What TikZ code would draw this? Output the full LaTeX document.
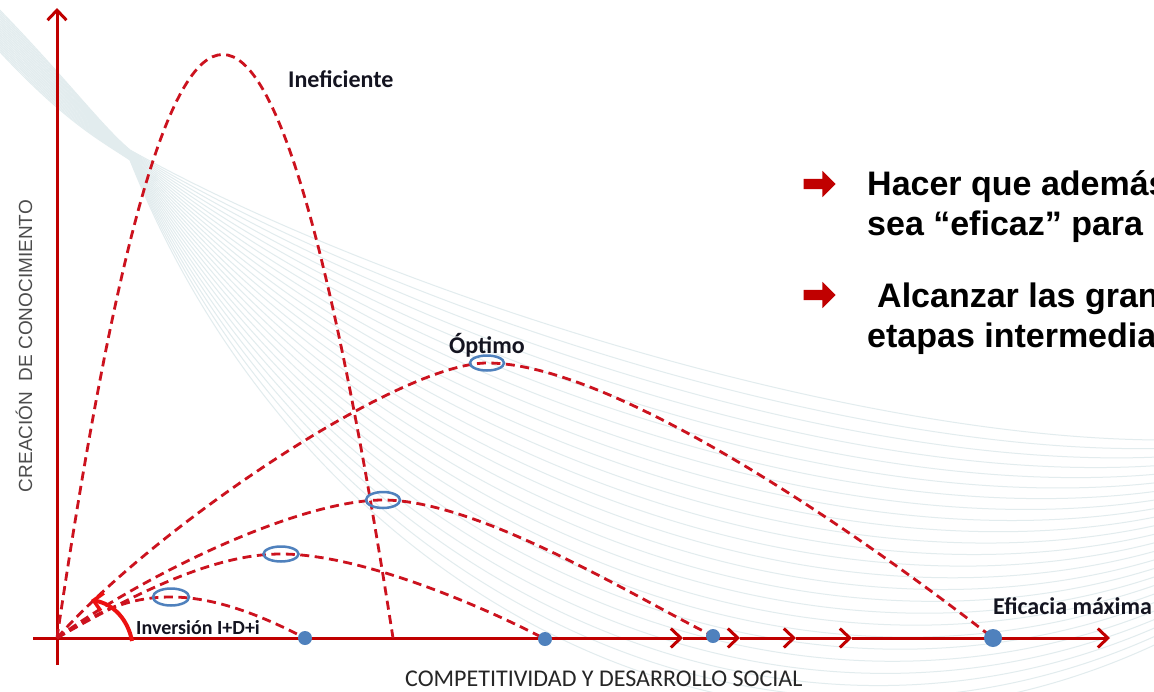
\documentclass[tikz,border=0pt]{standalone}
\usepackage{fontspec}
\setmainfont{Carlito}
\newfontfamily\arialfont{Liberation Sans}
\usetikzlibrary{arrows.meta,positioning,shapes.geometric,shapes.arrows}
\definecolor{axisred}{RGB}{192,0,0}
\definecolor{trailred}{RGB}{204,18,30}
\definecolor{kickred}{RGB}{236,16,16}
\definecolor{ringblue}{RGB}{79,129,189}
\definecolor{wave}{RGB}{226,236,238}
\definecolor{ink}{RGB}{20,20,32}

\begin{document}
\begin{tikzpicture}[x=1pt,y=-1pt,
  axis/.style={axisred,line width=3pt},
  barb/.style={-{Straight Barb[length=10pt,width=19pt,line width=3pt]}},
  trail/.style={trailred,line width=2.8pt,dash pattern=on 9pt off 5.5pt},
  ring/.style={draw=ringblue,line width=2.5pt,ellipse,inner sep=0pt,
    minimum width=34pt,minimum height=15pt},
  dot/.style={circle,fill=ringblue,inner sep=0pt,minimum size=14pt},
  kick/.style={kickred,line width=4pt,
    -{Straight Barb[length=9pt,width=18pt,line width=3.5pt]}},
  tag/.style={font=\bfseries\fontsize{24}{28}\selectfont,text=ink,inner sep=0pt},
  say/.style={font=\arialfont\bfseries\fontsize{34}{40}\selectfont,
    align=left,inner sep=0pt},
  bul/.style={single arrow,fill=axisred,inner xsep=0pt,inner ysep=5pt,
    minimum height=32pt,single arrow head extend=8pt}
]
  \useasboundingbox[fill=white] (0,0) rectangle (1154,691);

  \foreach \k [evaluate=\k as \s using \k/24] in {0,...,24}
    \draw[wave,line width=1pt]
      (-20,{-10+40*\s}) .. controls (60,{70+50*\s}) and (100,{125+15*\s})
      .. (130,{150+10*\s})
      .. controls ({380-80*\s},{290+300*\s}) and ({850-100*\s},{440+400*\s})
      .. (1165,{440+200*\s});

  \coordinate (o) at (57,638);
  \coordinate (ytop) at (57,8);
  \coordinate (ybot) at (57,665);
  \coordinate (xl) at (33,638);
  \coordinate (x1) at (683,638);
  \coordinate (x2) at (740,638);
  \coordinate (x3) at (796,638);
  \coordinate (x4) at (852,638);
  \coordinate (xr) at (1110,638);

  \draw[axis,barb] (ybot) -- (ytop);
  \draw[axis,barb] (xl) -- (x1);
  \draw[axis,barb] (x1) -- (x2);
  \draw[axis,barb] (x2) -- (x3);
  \draw[axis,barb] (x3) -- (x4);
  \draw[axis,barb] (x4) -- (xr);

  \coordinate (pk1) at (487,363);
  \coordinate (pk2) at (383,500);
  \coordinate (pk3) at (281,554);
  \coordinate (pk4) at (171,597);
  \coordinate (ie) at (393,638);
  \coordinate (e1) at (305,638);
  \coordinate (e2) at (545,639);
  \coordinate (e3) at (713,636);
  \coordinate (e4) at (993,638);

  \draw[trail] (o) .. controls (172,-140) and (272,-140) .. (ie);
  \draw[trail] (o) .. controls (157,525) and (400,363) .. (pk1)
    .. controls (620,363) and (880,550) .. (e4);
  \draw[trail] (o) .. controls (147,573) and (300,500) .. (pk2)
    .. controls (480,500) and (640,600) .. (e3);
  \draw[trail] (o) .. controls (150,585) and (220,554) .. (pk3)
    .. controls (360,554) and (480,605) .. (e2);
  \draw[trail] (o) .. controls (100,610) and (130,597) .. (pk4)
    .. controls (220,597) and (270,620) .. (e1);

  \node[ring] (r1) at (pk1) {};
  \node[ring,minimum height=16pt] (r2) at (pk2) {};
  \node[ring,minimum width=35pt] (r3) at (pk3) {};
  \node[ring,minimum width=36pt,minimum height=17pt] (r4) at (pk4) {};
  \node[dot] (d1) at (e1) {};
  \node[dot] (d2) at (e2) {};
  \node[dot] (d3) at (e3) {};
  \node[dot,minimum size=18pt] (d4) at (e4) {};

  \node[tag,anchor=base west] (inef) at (288,87) {Ineficiente};
  \node[tag,anchor=base west] (opt) at (449,353) {Óptimo};
  \node[tag,anchor=base west,font=\bfseries\fontsize{20}{24}\selectfont]
    (inv) at (136,634) {Inversión I+D+i};
  \node[tag,anchor=base west] (efi) at (993,614) {Eficacia máxima};

  \coordinate (kfrom) at (132,641);
  \coordinate (kto) at (91,600);
  \draw[kick] (kfrom) .. controls (128,620) and (114,604) .. (kto);

  \node[rotate=90,anchor=base,inner sep=0pt,text=black!70,
    font=\arialfont\fontsize{19}{19}\selectfont] (ylab) at (32,346)
    {CREACIÓN\ \ DE CONOCIMIENTO};
  \node[anchor=base west,inner sep=0pt,text=black!85,
    font=\fontsize{24}{24}\selectfont] (xlab) at (405,686)
    {COMPETITIVIDAD Y DESARROLLO SOCIAL};

  \node[bul] (bul1) at (817,184) {};
  \node[bul] (bul2) at (817,295) {};
  \node[say,anchor=base west] (say1) at (867,235)
    {Hacer que además\\sea “eficaz” para};
  \node[say,anchor=base west] (say2) at (867,347)
    {\hspace{10pt}Alcanzar las grandes\\etapas intermedias};
\end{tikzpicture}
\end{document}
